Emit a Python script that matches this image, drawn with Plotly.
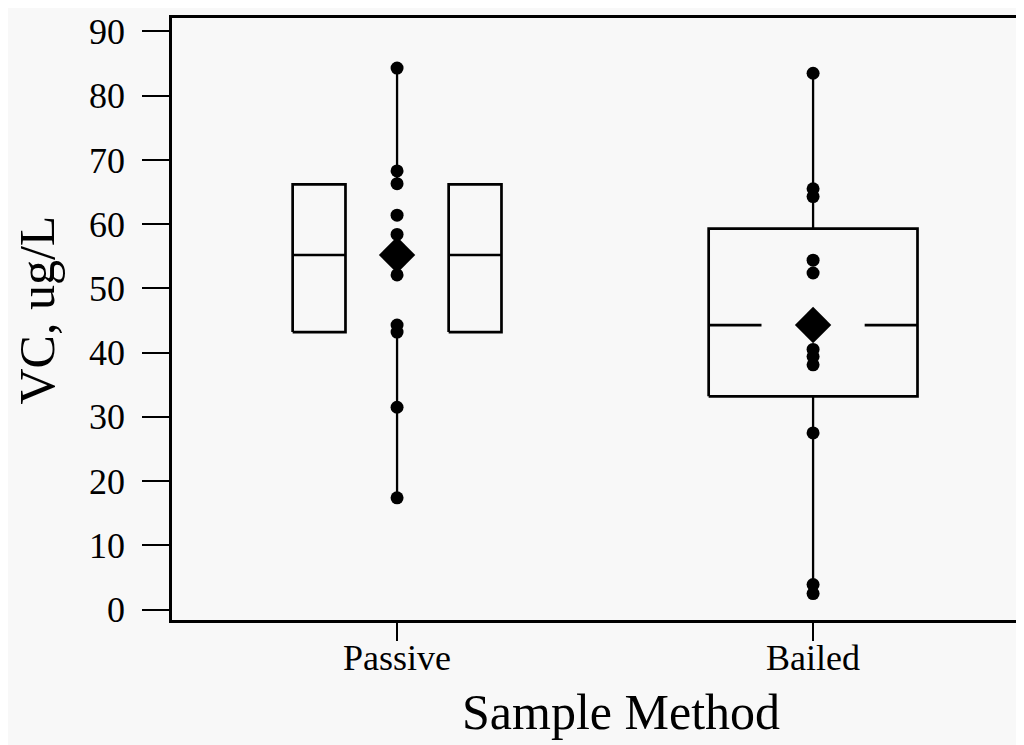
import plotly.graph_objects as go

# ---- data ----
categories = ["Passive", "Bailed"]
passive_vals = [84.3, 68.3, 66.3, 61.4, 58.4, 52.1, 44.3, 43.2, 31.5, 17.4]
bailed_vals = [83.5, 65.5, 64.3, 54.4, 52.4, 40.5, 39.4, 38.1, 27.5, 3.9, 2.5]
q1 = [43.2, 33.2]
median = [55.2, 44.3]
q3 = [66.2, 59.3]
lower_fence = [17.4, 2.5]
upper_fence = [84.3, 83.5]
centre_marker = [55.2, 44.3]
split_box = [True, False]  # Passive box drawn as two halves
y_ticks = [0, 10, 20, 30, 40, 50, 60, 70, 80, 90]
x_title = "Sample Method"
y_title = "VC, ug/L"

# ---- style ----
HALF_W = 0.251
GAP_W = 0.124
INK = "black"
BG = "#f8f8f8"
FONT = "Liberation Serif, Times New Roman, serif"

fig = go.Figure()

# whiskers
wx, wy = [], []
for i in range(len(categories)):
    wx += [i, i, None, i, i, None]
    wy += [q3[i], upper_fence[i], None, q1[i], lower_fence[i], None]
fig.add_trace(go.Scatter(x=wx, y=wy, mode="lines",
                         line=dict(color=INK, width=2.3),
                         hoverinfo="skip", showlegend=False))

# boxes
bx, by = [], []
for i in range(len(categories)):
    L, R = i - HALF_W, i + HALF_W
    gl, gr = i - GAP_W, i + GAP_W
    if split_box[i]:
        for a, b in ((L, gl), (gr, R)):
            bx += [a, b, b, a, a, None, a, b, None]
            by += [q1[i], q1[i], q3[i], q3[i], q1[i], None, median[i], median[i], None]
    else:
        bx += [L, R, R, L, L, None, L, gl, None, gr, R, None]
        by += [q1[i], q1[i], q3[i], q3[i], q1[i], None,
               median[i], median[i], None, median[i], median[i], None]
fig.add_trace(go.Scatter(x=bx, y=by, mode="lines",
                         line=dict(color=INK, width=2.7),
                         hoverinfo="skip", showlegend=False))

# data points
for i, vals in enumerate([passive_vals, bailed_vals]):
    fig.add_trace(go.Scatter(x=[i] * len(vals), y=vals, mode="markers",
                             marker=dict(color=INK, size=13, line=dict(width=0)),
                             name=categories[i], showlegend=False))

# centre diamonds
fig.add_trace(go.Scatter(x=list(range(len(categories))), y=centre_marker, mode="markers",
                         marker=dict(symbol="diamond", color=INK, size=28, line=dict(width=0)),
                         showlegend=False))

fig.update_layout(
    width=1016, height=737,
    margin=dict(l=164, r=0, t=10, b=125, autoexpand=False),
    paper_bgcolor=BG, plot_bgcolor=BG,
    font=dict(family=FONT, color=INK),
    showlegend=False,
    annotations=[
        dict(text=x_title, xref="paper", yref="paper", x=0.527, y=-0.153,
             xanchor="center", yanchor="middle", showarrow=False,
             font=dict(size=50, family=FONT, color=INK)),
        dict(text=y_title, xref="paper", yref="paper", x=-0.159, y=0.515,
             xanchor="center", yanchor="middle", showarrow=False, textangle=-90,
             font=dict(size=50, family=FONT, color=INK)),
    ],
)
fig.update_xaxes(
    range=[-0.541, 1.507],
    tickmode="array", tickvals=list(range(len(categories))), ticktext=categories,
    ticks="outside", ticklen=18, tickwidth=2, tickcolor=INK,
    tickfont=dict(size=36, family=FONT, color=INK),
    ticklabelstandoff=-14,
    showline=True, linecolor=INK, linewidth=2.5, mirror=True,
    showgrid=False, zeroline=False,
)
fig.update_yaxes(
    range=[-1.62, 92.1],
    tickmode="array", tickvals=y_ticks,
    ticks="outside", ticklen=27, tickwidth=2, tickcolor=INK,
    tickfont=dict(size=36, family=FONT, color=INK),
    ticklabelstandoff=10,
    showline=True, linecolor=INK, linewidth=2.5, mirror=False,
    showgrid=False, zeroline=False,
)

fig.write_html("out.html")
